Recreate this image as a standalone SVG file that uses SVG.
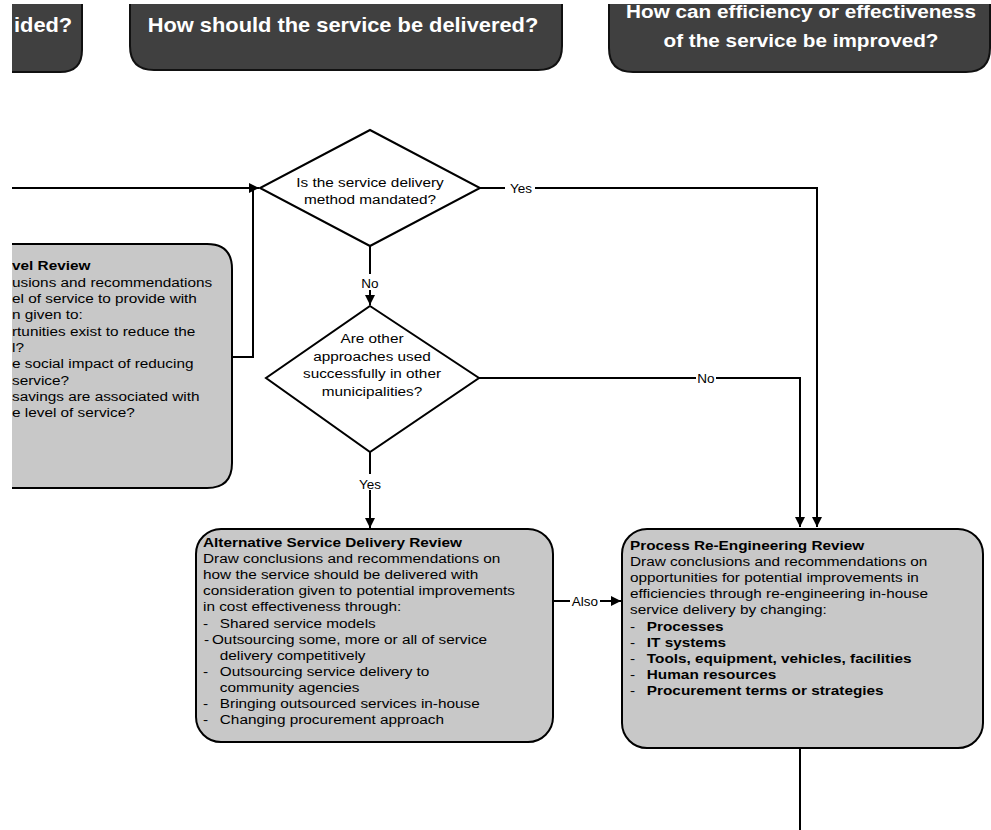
<svg xmlns="http://www.w3.org/2000/svg" width="991" height="830" viewBox="0 0 991 830">
  <defs>
    <style>
      .hdr { fill: #404040; stroke: #111; stroke-width: 2; }
      .box { fill: #c8c8c8; stroke: #000; stroke-width: 2; }
      .dia { fill: #fff; stroke: #000; stroke-width: 2; }
      .ln  { fill: none; stroke: #000; stroke-width: 2; }
      .arr { fill: none; stroke: #000; stroke-width: 2; marker-end: url(#head); }
      .t   { font-family: "Liberation Sans", Arial, sans-serif; font-size: 13.7px; fill: #000; }
      .b   { font-weight: bold; }
      .h   { font-family: "Liberation Sans", Arial, sans-serif; font-size: 19.5px; font-weight: bold; fill: #fff; }
      .h3  { font-size: 18.5px; }
      .lbl { font-family: "Liberation Sans", Arial, sans-serif; font-size: 13.5px; fill: #000; text-anchor: middle; }
      .bg  { fill: #fff; }
    </style>
    <marker id="head" viewBox="0 0 10 10" refX="10" refY="5" markerWidth="6" markerHeight="5" orient="auto" markerUnits="strokeWidth">
      <path d="M0,0 L10,5 L0,10 z" fill="#000"/>
    </marker>
    <clipPath id="page">
      <rect x="12" y="4" width="979" height="826"/>
    </clipPath>
  </defs>

  <rect width="991" height="830" fill="#fff"/>

  <g clip-path="url(#page)">
    <!-- column headers -->
    <g id="hdr-level">
      <path class="hdr" d="M-40,-10 H82 V50 Q82,72 60,72 H-40 Z"/>
      <g transform="translate(14 0) scale(1.12 1)"><text class="h" x="0" y="32">ided?</text></g>
    </g>
    <g id="hdr-delivery">
      <path class="hdr" d="M130,-10 H562 V46 Q562,70 538,70 H154 Q130,70 130,46 Z"/>
      <g transform="translate(343 0) scale(1.12 1)"><text class="h" x="0" y="32" text-anchor="middle">How should the service be delivered?</text></g>
    </g>
    <g id="hdr-efficiency">
      <path class="hdr" d="M609,-10 H990 V48 Q990,72 966,72 H633 Q609,72 609,48 Z"/>
      <g transform="translate(801 0) scale(1.12 1)">
        <text class="h h3" text-anchor="middle"><tspan x="0" y="18">How can efficiency or effectiveness</tspan><tspan x="0" y="47">of the service be improved?</tspan></text>
      </g>
    </g>

    <!-- connectors -->
    <g id="connectors">
      <path class="arr" d="M12,188 H259"/>
      <path class="ln" d="M232,357 H253 V188"/>
      <path class="arr" d="M480,188 H817 V527"/>
      <path class="arr" d="M370,246 V305"/>
      <path class="arr" d="M479,378 H800 V527"/>
      <path class="arr" d="M370,452 V528"/>
      <path class="arr" d="M553,601 H621"/>
      <path class="ln" d="M800,748 V830"/>
      <!-- connector labels -->
      <rect class="bg" x="505" y="179" width="30" height="16"/>
      <text class="lbl" x="521" y="193">Yes</text>
      <rect class="bg" x="360" y="274" width="20" height="16"/>
      <text class="lbl" x="370" y="288">No</text>
      <rect class="bg" x="696" y="370" width="20" height="16"/>
      <text class="lbl" x="706" y="383">No</text>
      <rect class="bg" x="355" y="474" width="30" height="16"/>
      <text class="lbl" x="370" y="489">Yes</text>
      <rect class="bg" x="570" y="593" width="30" height="16"/>
      <text class="lbl" x="585" y="606">Also</text>
    </g>

    <!-- decision: mandated delivery method -->
    <g id="dec-mandated">
      <polygon class="dia" points="370,130 480,188 370,246 260,188"/>
      <g transform="translate(370 0) scale(1.12 1)">
        <text class="t" text-anchor="middle"><tspan x="0" y="187">Is the service delivery</tspan><tspan x="0" y="204">method mandated?</tspan></text>
      </g>
    </g>

    <!-- decision: other approaches -->
    <g id="dec-approaches">
      <polygon class="dia" points="370,306 479,378 370,452 266,378"/>
      <g transform="translate(372 0) scale(1.12 1)">
        <text class="t" text-anchor="middle"><tspan x="0" y="343">Are other</tspan><tspan x="0" y="361">approaches used</tspan><tspan x="0" y="378">successfully in other</tspan><tspan x="0" y="396">municipalities?</tspan></text>
      </g>
    </g>

    <!-- service level review -->
    <g id="level-review">
      <path class="box" d="M-40,244 H207 Q232,244 232,269 V463 Q232,488 207,488 H-40 Z"/>
      <g transform="translate(12 0) scale(1.12 1)">
        <text class="t">
          <tspan class="b" x="0" y="270">vel Review</tspan>
          <tspan x="0" y="287">usions and recommendations</tspan>
          <tspan x="0" y="303">el of service to provide with</tspan>
          <tspan x="0" y="319">n given to:</tspan>
          <tspan x="0" y="336">rtunities exist to  reduce the</tspan>
          <tspan x="0" y="352">l?</tspan>
          <tspan x="0" y="368">e social impact of reducing</tspan>
          <tspan x="0" y="385">service?</tspan>
          <tspan x="0" y="401">savings are associated with</tspan>
          <tspan x="0" y="417">e level of service?</tspan>
        </text>
      </g>
    </g>

    <!-- alternative service delivery review -->
    <g id="asd-review">
      <rect class="box" x="196" y="529" width="357" height="213" rx="25"/>
      <g transform="translate(203 0) scale(1.12 1)">
        <text class="t">
          <tspan class="b" x="0" y="547">Alternative Service Delivery Review</tspan>
          <tspan x="0" y="563">Draw conclusions and recommendations on</tspan>
          <tspan x="0" y="579">how the service should be delivered with</tspan>
          <tspan x="0" y="595">consideration given to potential improvements</tspan>
          <tspan x="0" y="611">in cost effectiveness through:</tspan>
          <tspan x="0" y="628">-</tspan><tspan x="15" y="628">Shared service models</tspan>
          <tspan x="1" y="644">-</tspan><tspan x="8" y="644">Outsourcing some, more or all of service</tspan>
          <tspan x="15" y="660">delivery competitively</tspan>
          <tspan x="0" y="676">-</tspan><tspan x="15" y="676">Outsourcing service delivery to</tspan>
          <tspan x="15" y="692">community agencies</tspan>
          <tspan x="0" y="708">-</tspan><tspan x="15" y="708">Bringing outsourced services in-house</tspan>
          <tspan x="0" y="724">-</tspan><tspan x="15" y="724">Changing procurement approach</tspan>
        </text>
      </g>
    </g>

    <!-- process re-engineering review -->
    <g id="pre-review">
      <rect class="box" x="622" y="529" width="361" height="219" rx="25"/>
      <g transform="translate(630 0) scale(1.12 1)">
        <text class="t">
          <tspan class="b" x="0" y="550">Process Re-Engineering Review</tspan>
          <tspan x="0" y="566">Draw conclusions and recommendations on</tspan>
          <tspan x="0" y="582">opportunities for potential improvements in</tspan>
          <tspan x="0" y="598">efficiencies  through re-engineering in-house</tspan>
          <tspan x="0" y="614">service delivery by changing:</tspan>
          <tspan x="0" y="631">-</tspan><tspan class="b" x="15" y="631">Processes</tspan>
          <tspan x="0" y="647">-</tspan><tspan class="b" x="15" y="647">IT systems</tspan>
          <tspan x="0" y="663">-</tspan><tspan class="b" x="15" y="663">Tools, equipment, vehicles, facilities</tspan>
          <tspan x="0" y="679">-</tspan><tspan class="b" x="15" y="679">Human resources</tspan>
          <tspan x="0" y="695">-</tspan><tspan class="b" x="15" y="695">Procurement terms or strategies</tspan>
        </text>
      </g>
    </g>
  </g>
</svg>
